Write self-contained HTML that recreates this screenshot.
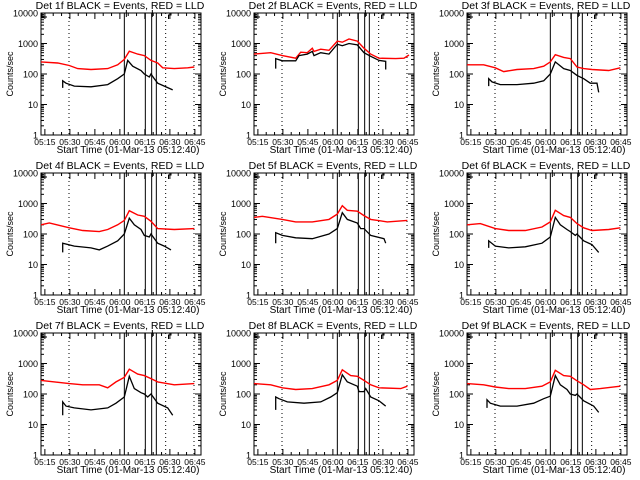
<!DOCTYPE html>
<html><head><meta charset="utf-8">
<style>
html,body{margin:0;padding:0;background:#fff;}
svg{display:block;}
text{font-family:"Liberation Sans",sans-serif;fill:#000;}
</style></head>
<body>
<svg id="chart" width="640" height="480" viewBox="0 0 640 480"></svg>
<script>
// Time in minutes after 05:12:40
const detectors = ["1f","2f","3f","4f","5f","6f","7f","8f","9f"];
const yTickValues = [1,10,100,1000,10000];
const yTickLabels = ["1","10","100","1000","10000"];
const xTickMinutes = [2.33,17.33,32.33,47.33,62.33,77.33,92.33];
const xTickLabels = ["05:15","05:30","05:45","06:00","06:15","06:30","06:45"];
const solidLineMinutes = [50,62.6,66.4,69.2];
const dottedLineMinutes = [16.8,74.8,91.8];

const redT1=[0,10,17,22,30,40,46,50,53,58,62,66,70,73,80,88,92];
const redV1=[250,230,190,150,140,150,200,300,560,450,400,280,230,160,150,160,170];
const blkT1=[13,13,15,20,30,40,46,50,52,55,60,62,65,66,68,70,74,79];
const blkV1=[35,60,50,40,38,45,70,100,280,180,130,100,80,100,70,50,40,30];

const redT2=[0,10,17,25,28,32,35,36,40,45,50,53,57,62,66,70,75,85,90,93];
const redV2=[450,500,400,330,520,500,700,550,650,600,1200,1100,1400,1200,700,450,330,320,330,420];
const blkT2=[13,13,17,25,27,32,35,36,40,45,50,53,57,62,66,70,75,79,79];
const blkV2=[150,320,270,270,400,450,550,400,500,450,950,850,1000,900,500,380,280,260,140];

const redT3=[0,10,17,22,30,40,46,50,53,58,62,66,70,75,85,92];
const redV3=[200,200,160,120,140,150,180,250,430,350,320,170,150,140,130,160];
const blkT3=[13,13,15,20,30,40,46,50,53,58,62,66,70,74,78,79];
const blkV3=[40,70,55,45,45,50,60,100,250,150,130,90,70,50,50,25];

const redT4=[0,5,17,25,35,40,46,50,53,58,62,66,70,80,92];
const redV4=[200,230,160,130,120,140,200,280,580,420,380,260,150,140,150];
const blkT4=[13,13,20,30,35,40,46,50,53,56,60,62,65,66,70,74,78];
const blkV4=[25,50,40,35,30,40,60,100,330,200,140,90,80,100,50,40,30];

const redT5=[0,5,17,25,35,45,50,53,56,62,66,70,80,92];
const redV5=[350,380,300,250,250,300,450,850,600,560,400,300,250,280];
const blkT5=[13,13,17,25,35,45,50,53,56,62,64,66,70,78,79];
const blkV5=[50,110,90,75,70,100,150,500,300,230,150,150,90,70,50];

const redT6=[0,8,17,25,35,45,50,53,58,62,66,70,75,85,92];
const redV6=[200,220,150,130,130,170,250,600,400,350,220,160,130,140,160];
const blkT6=[13,13,17,25,35,45,50,53,56,60,62,65,66,70,75,79];
const blkV6=[35,60,40,35,38,50,80,350,200,140,120,90,100,60,45,25];

const redT7=[0,17,25,35,40,45,50,53,58,62,66,70,80,92];
const redV7=[280,220,200,200,160,250,350,650,450,400,320,250,200,220];
const blkT7=[13,13,15,20,30,40,45,50,53,56,60,62,64,66,70,76,79];
const blkV7=[20,55,40,35,30,35,50,80,380,150,110,100,80,100,50,35,20];

const redT8=[0,10,17,25,35,45,50,53,58,62,66,70,75,88,92];
const redV8=[220,200,160,140,150,200,280,620,400,380,280,200,160,150,180];
const blkT8=[13,13,15,20,30,40,46,50,53,56,62,63,66,67,70,75,79];
const blkV8=[30,80,70,55,50,55,80,110,430,250,180,120,120,150,80,60,40];

const redT9=[0,10,17,25,35,45,50,53,58,62,66,70,74,80,92];
const redV9=[220,200,170,150,150,180,250,600,400,380,270,200,140,150,180];
const blkT9=[12,12,14,20,30,40,46,50,53,56,60,62,65,66,70,76,79];
const blkV9=[35,65,50,40,40,50,70,85,400,200,140,100,90,100,60,40,25];

const redTs=[redT1,redT2,redT3,redT4,redT5,redT6,redT7,redT8,redT9];
const redVs=[redV1,redV2,redV3,redV4,redV5,redV6,redV7,redV8,redV9];
const blkTs=[blkT1,blkT2,blkT3,blkT4,blkT5,blkT6,blkT7,blkT8,blkT9];
const blkVs=[blkV1,blkV2,blkV3,blkV4,blkV5,blkV6,blkV7,blkV8,blkV9];

const NS="http://www.w3.org/2000/svg";
const svg=document.getElementById('chart');
function mk(tag,attrs,parent){const e=document.createElementNS(NS,tag);for(const k in attrs)e.setAttribute(k,attrs[k]);(parent||svg).appendChild(e);return e;}

for(let p=0;p<9;p++){
  const col=p%3,row=Math.floor(p/3);
  const ox=col*213, oy=row*160;
  const L=ox+41,R=ox+201,T=oy+13,B=oy+135;
  const W=R-L,H=B-T;
  const xS=m=>L+m*(W/96);
  const yS=v=>B-Math.log10(v)/4*H;
  const g=mk('g',{});
  
  

  const t=mk('text',{x:ox+120,y:oy+9,'font-size':'10.5','text-anchor':'middle'},g);
  t.textContent='Det '+detectors[p]+' BLACK = Events, RED = LLD';
  
  

  const box=mk('rect',{x:L,y:T,width:W,height:H,fill:'none',stroke:'#000','stroke-width':1},g);
  
  

  for(let i=0;i<yTickValues.length;i++){
    const y=yS(yTickValues[i]);
    mk('line',{x1:L,x2:L+6,y1:y,y2:y,stroke:'#000'},g);
    mk('line',{x1:R,x2:R-6,y1:y,y2:y,stroke:'#000'},g);
    const tl=mk('text',{x:L-3,y:y+3.5,'font-size':'9','text-anchor':'end'},g);
    tl.textContent=yTickLabels[i];
    
    
    if(i<yTickValues.length-1){
      for(let k=2;k<10;k++){
        const yy=yS(yTickValues[i]*k);
        mk('line',{x1:L,x2:L+3,y1:yy,y2:yy,stroke:'#000'},g);
        mk('line',{x1:R,x2:R-3,y1:yy,y2:yy,stroke:'#000'},g);
      }
    }
  }
  const yt=mk('text',{x:0,y:0,'font-size':'9','text-anchor':'middle',transform:`translate(${ox+13},${oy+74}) rotate(-90)`},g);
  yt.textContent='Counts/sec';
  
  

  for(let i=0;i<xTickMinutes.length;i++){
    const x=xS(xTickMinutes[i]);
    mk('line',{x1:x,x2:x,y1:B,y2:B-6,stroke:'#000'},g);
    mk('line',{x1:x,x2:x,y1:T,y2:T+6,stroke:'#000'},g);
    const xl=mk('text',{x:x,y:B+10,'font-size':'8.5','text-anchor':'middle'},g);
    xl.textContent=xTickLabels[i];
    
    
    for(let k=1;k<3;k++){
      const xm=xS(xTickMinutes[i]+k*5);
      if(xm<R){mk('line',{x1:xm,x2:xm,y1:B,y2:B-3,stroke:'#000'},g);mk('line',{x1:xm,x2:xm,y1:T,y2:T+3,stroke:'#000'},g);}
    }
  }
  const xt=mk('text',{x:ox+128,y:oy+153,'font-size':'10','text-anchor':'middle'},g);
  xt.textContent='Start Time (01-Mar-13 05:12:40)';
  
  

  for(const m of dottedLineMinutes){
    const l=mk('line',{x1:xS(m),x2:xS(m),y1:T,y2:B,stroke:'#000','stroke-dasharray':'1,3'},g);
    
    
  }
  for(const m of solidLineMinutes){
    const l=mk('line',{x1:xS(m),x2:xS(m),y1:T,y2:B,stroke:'#000'},g);
    
    
  }
  mk('path',{d:`M${L+1} ${T} V${T+4} H${L+6}`,fill:'none',stroke:'#000'},g);
  mk('path',{d:`M${xS(51.2)} ${T-3} V${T+4}`,fill:'none',stroke:'#000'},g);
  mk('path',{d:`M${xS(66.8)} ${T-3} V${T+4}`,fill:'none',stroke:'#000'},g);
  mk('path',{d:`M${xS(76.5)} ${T+6} V${T+2} H${xS(78)} V${T} H${xS(80)}`,fill:'none',stroke:'#000'},g);

  const path=(ts,vs)=>ts.map((m,i)=>(i?'L':'M')+xS(m).toFixed(1)+' '+yS(vs[i]).toFixed(1)).join(' ');
  const red=mk('path',{d:path(redTs[p],redVs[p]),fill:'none',stroke:'#ff0000','stroke-width':1.4},g);
  
  
  const blk=mk('path',{d:path(blkTs[p],blkVs[p]),fill:'none',stroke:'#000','stroke-width':1.3},g);
  
  
}
</script>
</body></html>
